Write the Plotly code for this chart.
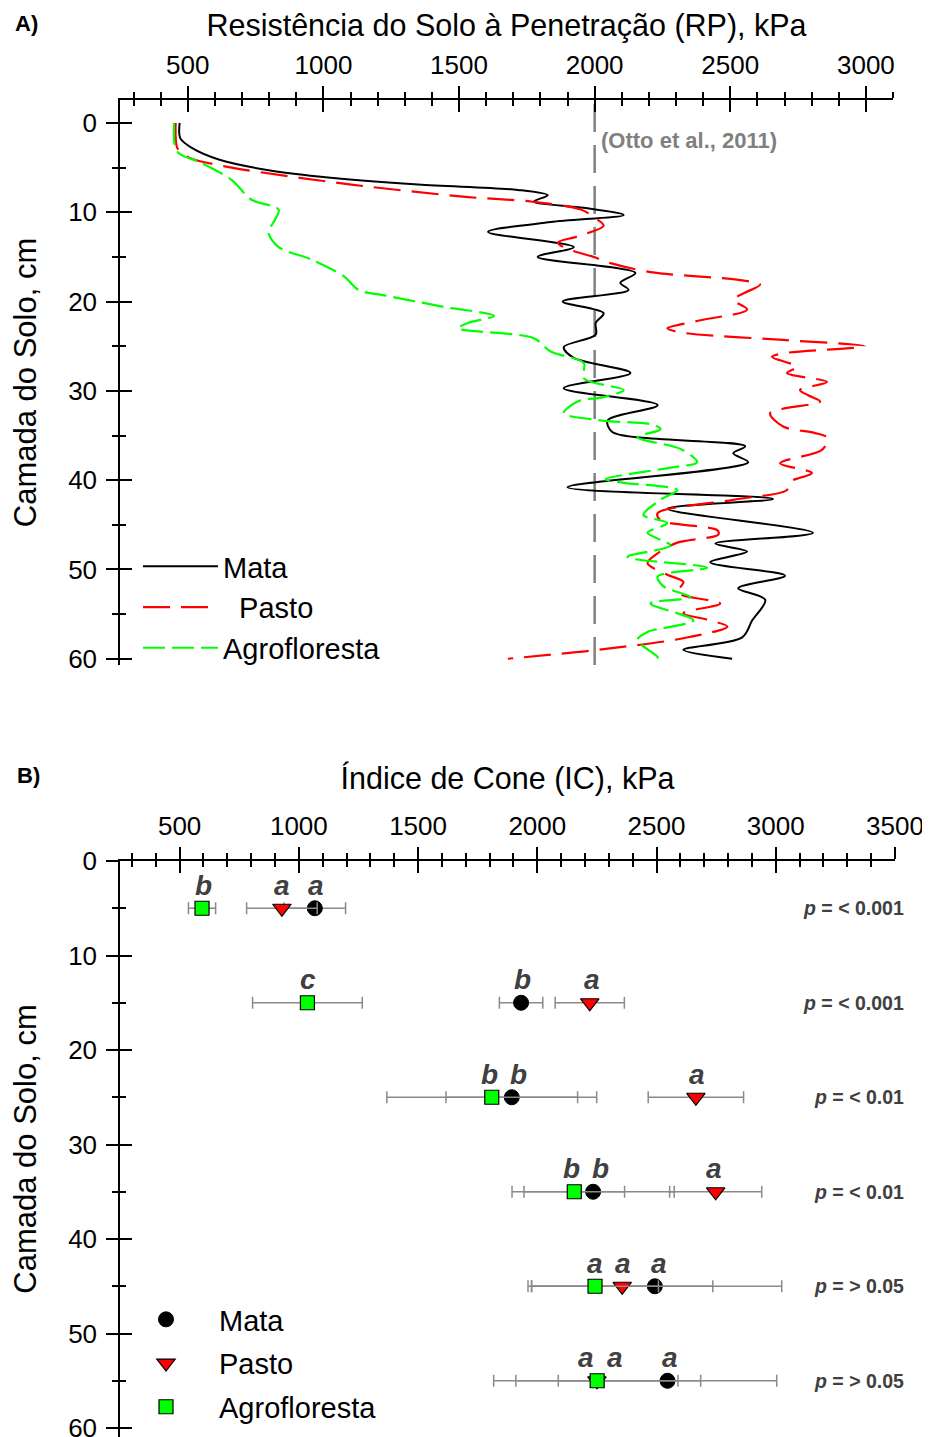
import plotly.graph_objects as go

# ---------------- Panel A data: penetration resistance profiles ----------------
depth_mata = [0, 1.7, 2.8, 4.1, 5.3, 6.0, 6.9, 7.5, 8.1, 8.8, 9.5, 10.3, 11.1, 12.2, 13.9, 15.0,
              16.8, 17.9, 18.7, 20.0, 21.3, 22.4, 23.7, 25.1, 26.3, 28.0, 29.7, 31.6, 33.3,
              34.6, 36.2, 37.0, 38.0, 40.8, 42.1, 43.2, 45.9, 47.1, 48.0, 49.2, 50.7, 52.1,
              53.4, 55.7, 57.6, 59.0, 60.0]
rp_mata = [470, 472, 515, 614, 798, 981, 1349, 1717, 1827, 1776, 1960, 2107, 1838, 1607, 1923, 1790,
           2150, 2095, 2125, 1882, 2033, 2004, 2004, 1886, 1923, 2132, 1886, 2232, 2048,
           2065, 2555, 2511, 2566, 1900, 2658, 2268, 2805, 2445, 2562, 2426, 2702, 2529,
           2629, 2581, 2544, 2327, 2507]

depth_pasto = [0, 2.7, 3.4, 4.0, 5.0, 6.9, 8.3, 8.8, 9.7, 10.6, 11.5, 12.7, 13.4, 14.1, 15.0, 15.7,
               16.7, 17.6, 18.1, 19.1, 19.8, 20.9, 22.1, 23.0, 23.5, 24.3, 25.0, 25.8, 26.2,
               27.3, 28.0, 29.0, 29.9, 30.5, 31.2, 32.5, 34.0, 34.7, 35.3, 36.6, 38.1, 39.2,
               40.2, 41.1, 42.2, 43.7, 44.5, 45.6, 46.1, 47.0, 48.2, 49.3, 50.6, 51.4, 52.6,
               53.8, 54.9, 55.7, 56.4, 57.7, 59.0, 60.0]
rp_pasto = [455, 460, 478, 515, 662, 1103, 1533, 1765, 1949, 2000, 2033, 1937, 1864, 1900, 1996, 2059,
            2206, 2537, 2610, 2548, 2511, 2562, 2390, 2268, 2327, 2695, 2996, 2695, 2654,
            2746, 2709, 2857, 2757, 2787, 2831, 2647, 2695, 2810, 2860, 2838, 2684, 2801,
            2720, 2709, 2511, 2232, 2243, 2452, 2456, 2305, 2232, 2195, 2268, 2327, 2305,
            2463, 2327, 2426, 2489, 2327, 2011, 1680]

depth_agro = [0, 2.5, 3.4, 4.5, 6.4, 8.6, 9.7, 10.9, 12.3, 13.9, 15.3, 17.2, 18.7, 19.3, 20.6,
              21.6, 22.4, 23.0, 24.1, 25.6, 26.9, 28.6, 29.9, 30.7, 31.2, 32.5, 33.3, 33.8,
              34.3, 35.2, 36.5, 38.0, 38.6, 39.9, 40.3, 41.1, 42.2, 43.9, 44.8, 45.9, 47.3,
              48.6, 49.8, 50.8, 51.9, 53.1, 53.8, 55.7, 57.0, 57.9, 59.8, 60.0]
rp_agro = [449, 452, 467, 551, 662, 735, 835, 820, 798, 835, 956, 1077, 1129, 1224, 1445,
           1629, 1533, 1496, 1776, 1838, 1960, 1960, 2107, 2033, 1937, 1886, 2022, 2217,
           2243, 2158, 2316, 2378, 2279, 2040, 2107, 2305, 2243, 2180, 2268, 2195, 2279,
           2121, 2415, 2232, 2254, 2353, 2206, 2364, 2195, 2158, 2232, 2232]

otto_limit = 2000
otto_label = "(Otto et al., 2011)"

# ---------------- Panel B data: cone index by layer ----------------
layer_depth = [5, 15, 25, 35, 45, 55]
ic_mata = [1067, 1932, 1893, 2234, 2493, 2546]
err_mata = [129, 91, 276, 340, 532, 458]
ic_pasto = [929, 2220, 2665, 2748, 2356, 2250]
err_pasto = [148, 145, 200, 193, 380, 340]
ic_agro = [594, 1036, 1809, 2155, 2242, 2251]
err_agro = [57, 230, 440, 211, 266, 434]
letters_mata = ["a", "b", "b", "b", "a", "a"]
letters_pasto = ["a", "a", "a", "a", "a", "a"]
letters_agro = ["b", "c", "b", "b", "a", "a"]
p_text = ["&lt; 0.001", "&lt; 0.001", "&lt; 0.01", "&lt; 0.01", "&gt; 0.05", "&gt; 0.05"]

# label nudges (px) to avoid overlaps, as in the original
shift_mata = [1, 1, 7, 7, 4, 2]
shift_pasto = [0, 2, 1, -2, 1, 18]
shift_agro = [1, 1, -2, -3, 0, -11]

FONT = "Arial, Liberation Sans, sans-serif"
GREEN = "#00ff00"
RED = "#ff0000"

fig = go.Figure()

# Panel A lines
fig.add_trace(go.Scatter(x=rp_mata, y=depth_mata, mode="lines", name="Mata",
                         line=dict(color="black", width=2, shape="spline", smoothing=0.9),
                         xaxis="x", yaxis="y", legend="legend"))
fig.add_trace(go.Scatter(x=rp_pasto, y=depth_pasto, mode="lines", name="\u00a0\u00a0Pasto",
                         line=dict(color=RED, width=2.2, dash="27px,11px", shape="spline", smoothing=0.9),
                         xaxis="x", yaxis="y", legend="legend"))
fig.add_trace(go.Scatter(x=rp_agro, y=depth_agro, mode="lines", name="Agrofloresta",
                         line=dict(color=GREEN, width=2.2, dash="22px,7px", shape="spline", smoothing=0.9),
                         xaxis="x", yaxis="y", legend="legend"))

# Panel B markers
err_style = dict(type="data", color="#8a8a8a", thickness=1.5, width=6)
fig.add_trace(go.Scatter(x=ic_mata, y=layer_depth, mode="markers", name="Mata",
                         error_x=dict(array=err_mata, **err_style),
                         marker=dict(symbol="circle", size=15, color="black",
                                     line=dict(color="black", width=1)),
                         xaxis="x2", yaxis="y2", legend="legend2", legendgroup="m"))
fig.add_trace(go.Scatter(x=ic_pasto, y=layer_depth, mode="markers", name="Pasto",
                         error_x=dict(array=err_pasto, **err_style),
                         marker=dict(symbol="triangle-down", size=16, color=RED,
                                     line=dict(color="black", width=1.2)),
                         xaxis="x2", yaxis="y2", legend="legend2", legendgroup="p"))
fig.add_trace(go.Scatter(x=ic_agro, y=layer_depth, mode="markers", name="Agrofloresta",
                         error_x=dict(array=err_agro, **err_style),
                         marker=dict(symbol="square", size=14, color=GREEN,
                                     line=dict(color="black", width=1.2)),
                         xaxis="x2", yaxis="y2", legend="legend2", legendgroup="a"))

# empty traces for the overlay axes that draw the inner half of crossing ticks
for xa, ya in [("x3", "y"), ("x", "y3"), ("x4", "y2"), ("x2", "y4")]:
    fig.add_trace(go.Scatter(x=[], y=[], xaxis=xa, yaxis=ya, showlegend=False, hoverinfo="skip"))

# Reference line (Otto et al.)
fig.add_shape(type="line", xref="x", yref="y domain", x0=otto_limit, x1=otto_limit, y0=0, y1=1,
              line=dict(color="#808080", width=2.5, dash="28px,13px"), layer="below")
fig.add_annotation(x=otto_limit, y=2, xref="x", yref="y", text="<b>" + otto_label + "</b>",
                   showarrow=False, xanchor="left", xshift=4,
                   font=dict(family=FONT, size=22, color="#808080"))

# Significance letters and p-values
for i, d in enumerate(layer_depth):
    for val, let, sh in [(ic_mata[i], letters_mata[i], shift_mata[i]),
                         (ic_pasto[i], letters_pasto[i], shift_pasto[i]),
                         (ic_agro[i], letters_agro[i], shift_agro[i])]:
        fig.add_annotation(x=val, y=d, xref="x2", yref="y2", text="<b><i>" + let + "</i></b>",
                           showarrow=False, yshift=23, xshift=sh,
                           font=dict(family=FONT, size=28, color="#404040"))
    fig.add_annotation(x=1.0142, y=d, xref="paper", yref="y2", xanchor="right",
                       text="<b><i>p</i> = " + p_text[i] + "</b>", showarrow=False,
                       font=dict(family=FONT, size=19.5, color="#404040"))

# Panel labels
fig.add_annotation(x=-0.138, y=(1437 - 23) / 1337, xref="paper", yref="paper", xanchor="left",
                   yanchor="middle", text="<b>A)</b>",
                   showarrow=False, font=dict(family=FONT, size=22, color="black"))
fig.add_annotation(x=-0.136, y=(1437 - 775) / 1337, xref="paper", yref="paper", xanchor="left",
                   yanchor="middle", text="<b>B)</b>",
                   showarrow=False, font=dict(family=FONT, size=22, color="black"))

tickfont = dict(family=FONT, size=26, color="black")
xtitlefont = dict(family=FONT, size=30.5, color="black")
ytitlefont = dict(family=FONT, size=31, color="black")


def xax(domain, rng, title, inner=False, overlay=None, anchor="y"):
    d = dict(domain=domain, range=rng, side="top", anchor=anchor, tickmode="linear", tick0=0,
             dtick=500, ticklen=12, tickwidth=1.5, tickcolor="black", showgrid=False,
             zeroline=False,
             minor=dict(ticklen=6, tickwidth=1.5, tickcolor="black", dtick=100, tick0=0,
                        ticks="inside" if inner else "outside", showgrid=False),
             ticks="inside" if inner else "outside", fixedrange=True)
    if inner:
        d.update(showticklabels=False, showline=False, overlaying=overlay)
    else:
        d.update(showline=True, linecolor="black", linewidth=1.5, tickfont=tickfont,
                 ticklabelstandoff=2,
                 title=dict(text=title, font=xtitlefont, standoff=12))
    return d


def yax(domain, rng, inner=False, overlay=None, anchor="x"):
    d = dict(domain=domain, range=rng, side="left", anchor=anchor, tickmode="linear", tick0=0,
             dtick=10, ticklen=12, tickwidth=1.5, tickcolor="black", showgrid=False,
             zeroline=False,
             minor=dict(ticklen=6, tickwidth=1.5, tickcolor="black", dtick=5, tick0=0,
                        ticks="inside" if inner else "outside", showgrid=False),
             ticks="inside" if inner else "outside", fixedrange=True)
    if inner:
        d.update(showticklabels=False, showline=False, overlaying=overlay)
    else:
        d.update(showline=True, linecolor="black", linewidth=1.5, tickfont=tickfont,
                 ticklabelstandoff=4,
                 title=dict(text="Camada do Solo, cm", font=ytitlefont, standoff=22))
    return d


domA_x = [0, 773 / 775]
domA_y = [(1437 - 665) / 1337, 1]
domB_y = [0, (1437 - 861) / 1337]
rangeA_x = [250, 3100]
rangeB_x = [250, 3500]
rangeA_y = [60.7, -2.57]
rangeB_y = [60.95, 0]

# the page body adds an 8px offset; margins compensate so the plot area sits at x 120-895
fig.update_layout(
    width=930, height=1437,
    margin=dict(l=112, r=43, t=92, b=8, autoexpand=False),
    paper_bgcolor="white", plot_bgcolor="white",
    font=dict(family=FONT, color="black"),
    xaxis=xax(domA_x, rangeA_x, "Resistência do Solo à Penetração (RP), kPa"),
    xaxis3=xax(domA_x, rangeA_x, "", inner=True, overlay="x"),
    yaxis=yax(domA_y, rangeA_y),
    yaxis3=yax(domA_y, rangeA_y, inner=True, overlay="y"),
    xaxis2=xax([0, 1], rangeB_x, "Índice de Cone (IC), kPa", anchor="y2"),
    xaxis4=xax([0, 1], rangeB_x, "", inner=True, overlay="x2", anchor="y2"),
    yaxis2=yax(domB_y, rangeB_y, anchor="x2"),
    yaxis4=yax(domB_y, rangeB_y, inner=True, overlay="y2", anchor="x2"),
    legend=dict(x=(138 - 120) / 775, y=(1437 - 541) / 1337, xanchor="left", yanchor="top",
                bgcolor="rgba(0,0,0,0)", itemwidth=75,
                font=dict(family=FONT, size=29, color="black")),
    legend2=dict(x=(113 - 120) / 775, y=(1437 - 1294) / 1337, xanchor="left", yanchor="top",
                 bgcolor="rgba(0,0,0,0)", itemwidth=96, tracegroupgap=3,
                 font=dict(family=FONT, size=29, color="black")),
    showlegend=True,
)

fig.write_html("out.html")
